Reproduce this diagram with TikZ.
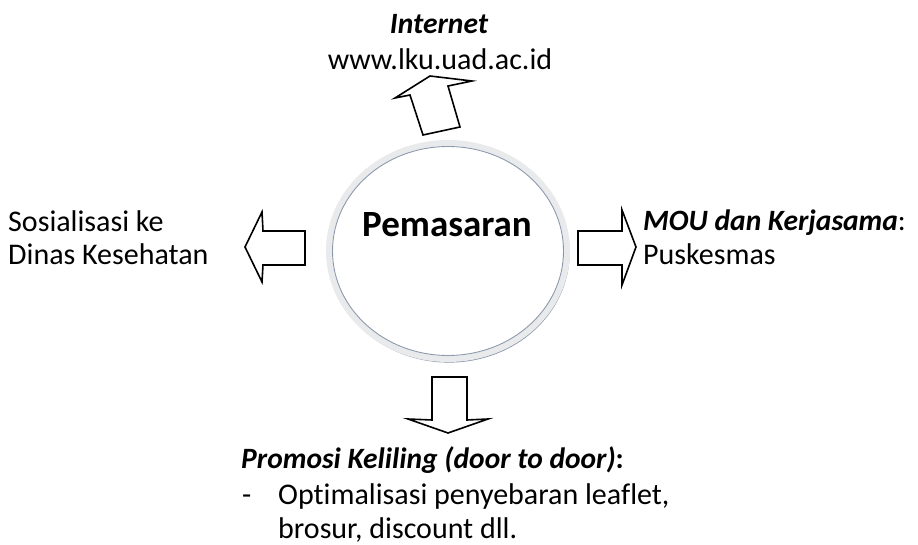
\documentclass[tikz,border=0pt]{standalone}
\usepackage{fontspec}
\setmainfont{Carlito}[Ligatures=NoCommon]
\definecolor{ringlight}{RGB}{232,234,236}
\definecolor{ringdark}{RGB}{140,152,172}
\begin{document}
\begin{tikzpicture}[x=1pt,y=-1pt,
  arrowshape/.style={draw=black, line width=1.6pt, fill=white, line join=miter},
  lbl/.style={font=\fontsize{30}{35}\selectfont, inner sep=0pt, anchor=base west},
  lblc/.style={font=\fontsize{30}{35}\selectfont, inner sep=0pt, anchor=base}]
\useasboundingbox (0,0) rectangle (918,545);
% central ellipse
\draw[ringdark, line width=1.2pt] (449,253) ellipse [x radius=120, y radius=109];
\draw[ringlight, line width=6pt] (448,251) ellipse [x radius=119, y radius=108];
\draw[ringdark, line width=0.9pt] (448,251) ellipse [x radius=115.5, y radius=104.5];
\node[font=\fontsize{37}{42}\selectfont\bfseries, inner sep=0pt, anchor=base] (center) at (447,237) {Pemasaran};
% up arrow (tilted)
\draw[arrowshape] (430,76) -- (472,81) -- (448,86) -- (460,127) -- (423,135) -- (410,95) -- (395,98) -- cycle;
% left arrow
\draw[arrowshape] (245,247) -- (262,212) -- (263,231) -- (305,231) -- (305,265) -- (263,265) -- (262,282) -- cycle;
% right arrow
\draw[arrowshape] (636,247) -- (622,210) -- (622,231) -- (578,231) -- (578,265) -- (622,265) -- (622,285) -- cycle;
% down arrow
\draw[arrowshape] (448,433) -- (488,419) -- (467,420) -- (467,377) -- (432,377) -- (432,420) -- (408,419) -- cycle;
% texts
\node[lblc, font=\fontsize{29.5}{35}\selectfont\bfseries\itshape] (inet) at (439,34) {Internet};
\node[lblc] (url) at (440,70) {www.lku.uad.ac.id};
\node[lbl] (sos1) at (8,232) {Sosialisasi ke};
\node[lbl] (sos2) at (8,265) {Dinas Kesehatan};
\node[lbl, font=\fontsize{29.5}{35}\selectfont] (mou1) at (643,231) {\textbf{\textit{MOU dan Kerjasama}}:};
\node[lbl] (mou2) at (643,265) {Puskesmas};
\node[lbl, font=\fontsize{29.5}{35}\selectfont] (pro) at (241,468) {\textbf{\textit{Promosi Keliling (door to door)}:}};
\node[lbl] (dash) at (242,504) {-};
\node[lbl] (pro2) at (278,504) {Optimalisasi penyebaran leaflet,};
\node[lbl] (pro3) at (278,538) {brosur, discount dll.};
\end{tikzpicture}
\end{document}
